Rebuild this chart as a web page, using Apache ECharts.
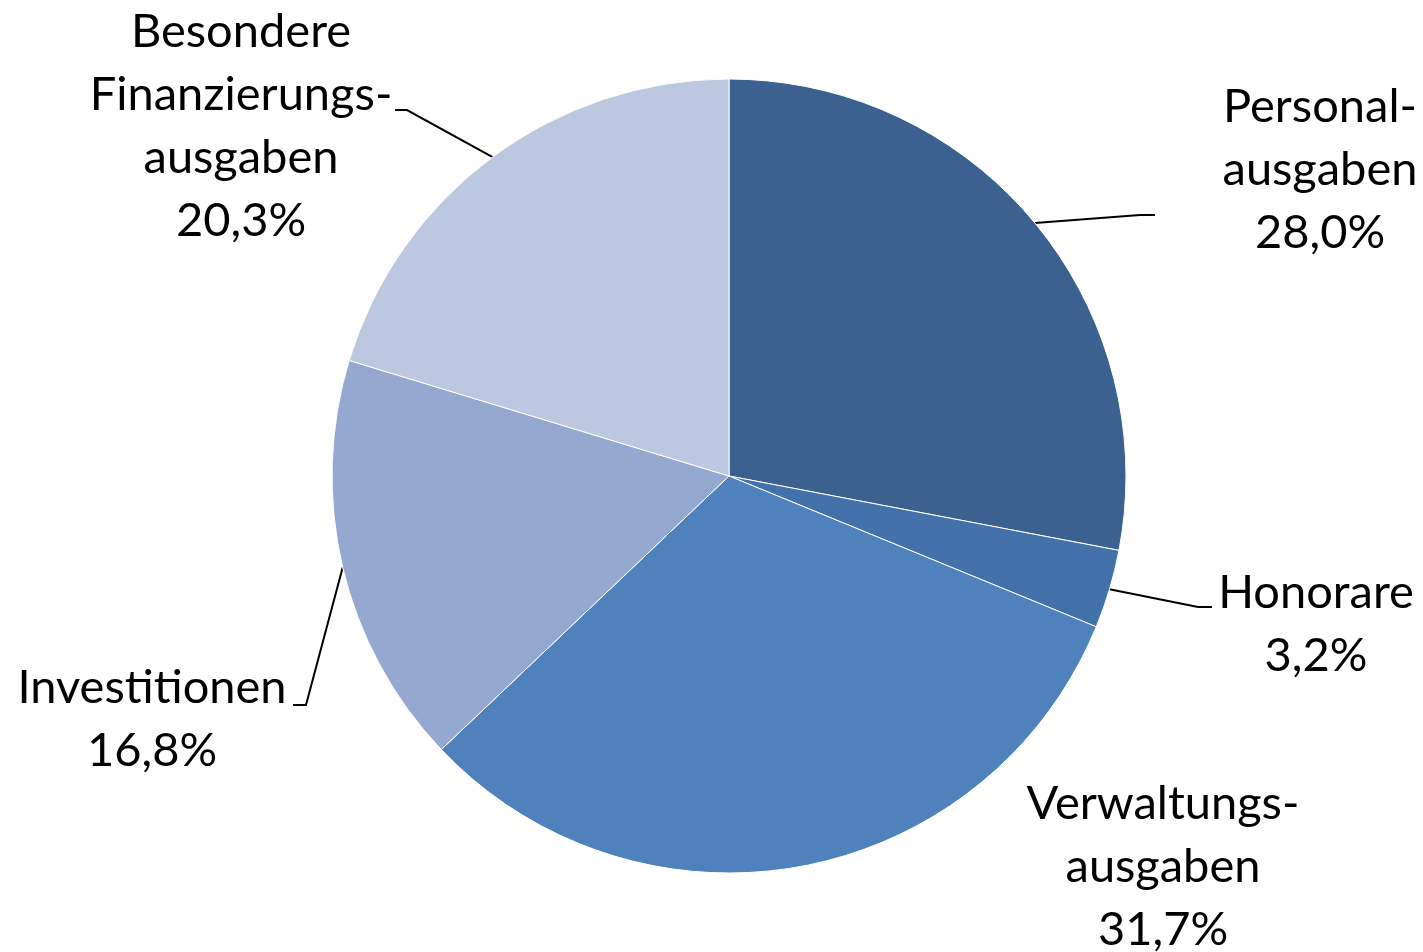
<!DOCTYPE html>
<html>
<head>
<meta charset="utf-8">
<script src="https://cdn.jsdelivr.net/npm/echarts@6/dist/echarts.min.js"></script>
<style>
  html, body { margin: 0; padding: 0; background: #fff; }
  #chart { width: 1423px; height: 952px; }
</style>
</head>
<body>
<div id="chart"></div>
<script>
// categories (line breaks as in the original labels)
var categories = [
  'Personal-\nausgaben',
  'Honorare',
  'Verwaltungs-\nausgaben',
  'Investitionen',
  'Besondere\nFinanzierungs-\nausgaben'
];
var shares = [28.0, 3.2, 31.7, 16.8, 20.3];
var colors = ['#3C6190', '#4371A9', '#4F81BD', '#95A9D0', '#BBC8E0'];
// where each label block sits (centre of the text)
var labelSpots = [[1320, 170], [1316, 624], [1163, 867], [152, 719], [241, 126]];
// elbow and end of each leader line (null = no line)
var leaderEnds = [
  [[1140, 215], [1155, 215]],
  [[1198, 607], [1212, 607]],
  null,
  [[306, 705], [293, 705]],
  [[407, 110], [395, 110]]
];

var myChart = echarts.init(document.getElementById('chart'));

var data = categories.map(function (name, i) {
  return {
    name: name,
    value: shares[i],
    itemStyle: { color: colors[i] },
    labelLine: { show: leaderEnds[i] !== null }
  };
});

myChart.setOption({
  animation: false,
  series: [
    {
      type: 'pie',
      center: [729, 476],
      radius: 397,
      startAngle: 90,
      clockwise: true,
      data: data,
      itemStyle: { borderColor: '#fff', borderWidth: 1 },
      label: {
        show: true,
        position: 'outside',
        color: '#000',
        fontFamily: 'Lato',
        fontSize: 47,
        lineHeight: 63,
        align: 'center',
        formatter: function (p) {
          return p.name + '\n' + p.value.toFixed(1).replace('.', ',') + '%';
        }
      },
      labelLine: {
        show: true,
        lineStyle: { color: '#000', width: 2 }
      },
      labelLayout: function (params) {
        var i = params.dataIndex;
        var s = labelSpots[i];
        var out = { x: s[0], y: s[1], align: 'center', verticalAlign: 'middle' };
        if (leaderEnds[i] && params.labelLinePoints) {
          out.labelLinePoints = [params.labelLinePoints[0], leaderEnds[i][0], leaderEnds[i][1]];
        }
        return out;
      }
    }
  ]
});
</script>
</body>
</html>
